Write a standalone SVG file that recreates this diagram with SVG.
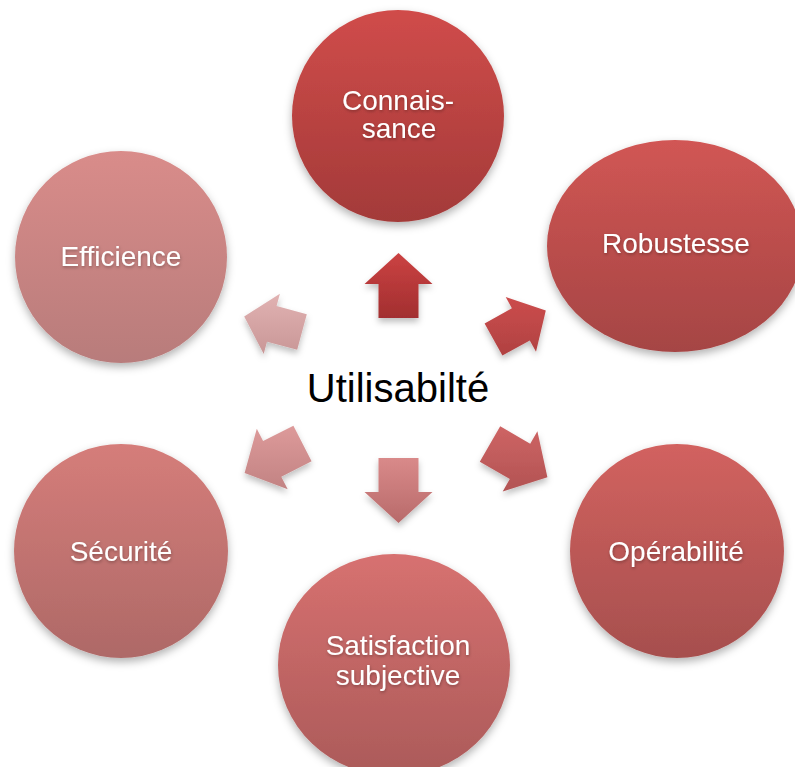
<svg xmlns="http://www.w3.org/2000/svg" width="795" height="767" viewBox="0 0 795 767">
<defs>
<filter id="sh" x="-20%" y="-20%" width="140%" height="150%">
<feDropShadow dx="0" dy="4" stdDeviation="4" flood-color="#000" flood-opacity="0.3"/>
</filter>
<filter id="ash" x="-30%" y="-30%" width="160%" height="170%">
<feDropShadow dx="0" dy="4" stdDeviation="3" flood-color="#000" flood-opacity="0.25"/>
</filter>
<filter id="tsh" x="-10%" y="-30%" width="120%" height="170%">
<feDropShadow dx="0.5" dy="1.5" stdDeviation="1.5" flood-color="#000" flood-opacity="0.3"/>
</filter>
<linearGradient id="g1" x1="0" y1="0" x2="0" y2="1"><stop offset="0" stop-color="#d04c4a"/><stop offset="1" stop-color="#a33a39"/></linearGradient>
<linearGradient id="g2" x1="0" y1="0" x2="0" y2="1"><stop offset="0" stop-color="#d15654"/><stop offset="1" stop-color="#a54544"/></linearGradient>
<linearGradient id="g3" x1="0" y1="0" x2="0" y2="1"><stop offset="0" stop-color="#d2625f"/><stop offset="1" stop-color="#a64f4e"/></linearGradient>
<linearGradient id="g4" x1="0" y1="0" x2="0" y2="1"><stop offset="0" stop-color="#d77170"/><stop offset="1" stop-color="#ab5a59"/></linearGradient>
<linearGradient id="g5" x1="0" y1="0" x2="0" y2="1"><stop offset="0" stop-color="#d57d7a"/><stop offset="1" stop-color="#ae6967"/></linearGradient>
<linearGradient id="g6" x1="0" y1="0" x2="0" y2="1"><stop offset="0" stop-color="#d98c8a"/><stop offset="1" stop-color="#b87c7b"/></linearGradient>
<linearGradient id="a1" x1="0" y1="0" x2="0" y2="1"><stop offset="0" stop-color="#cb4242"/><stop offset="1" stop-color="#a22f30"/></linearGradient>
<linearGradient id="a2" x1="0" y1="0" x2="0" y2="1"><stop offset="0" stop-color="#cc4d4d"/><stop offset="1" stop-color="#b04141"/></linearGradient>
<linearGradient id="a3" x1="0" y1="0" x2="0" y2="1"><stop offset="0" stop-color="#ce6464"/><stop offset="1" stop-color="#b25353"/></linearGradient>
<linearGradient id="a4" x1="0" y1="0" x2="0" y2="1"><stop offset="0" stop-color="#d98a8a"/><stop offset="1" stop-color="#b86a6a"/></linearGradient>
<linearGradient id="a5" x1="0" y1="0" x2="0" y2="1"><stop offset="0" stop-color="#dd9a9a"/><stop offset="1" stop-color="#c28383"/></linearGradient>
<linearGradient id="a6" x1="0" y1="0" x2="0" y2="1"><stop offset="0" stop-color="#e1b2b2"/><stop offset="1" stop-color="#c99797"/></linearGradient>
</defs>
<style>
.node{filter:url(#sh);}
.lbl{font-family:"Liberation Sans",Arial,sans-serif;font-size:28px;fill:#ffffff;text-anchor:middle;filter:url(#tsh);}
.arr{filter:url(#ash);}
.center{font-family:"Liberation Sans",Arial,sans-serif;font-size:40px;fill:#000000;text-anchor:middle;}
</style>
<rect width="795" height="767" fill="#ffffff"/>
<g id="connectors">
<polygon class="arr" fill="url(#a1)" points="378.5,318 378.5,284 364.5,284 398.5,253 432.5,284 418.5,284 418.5,318"/>
<polygon class="arr" fill="url(#a2)" points="484.6,323.4 511.9,308.2 505.7,297.0 545.8,310.5 536.0,351.7 529.8,340.4 502.4,355.6"/>
<polygon class="arr" fill="url(#a3)" points="500.2,426.3 530.2,443.7 537.4,431.3 547.4,477.2 502.7,491.4 509.8,479.0 479.8,461.7"/>
<polygon class="arr" fill="url(#a4)" points="418.5,458 418.5,492 432.5,492 398.5,523 364.5,492 378.5,492 378.5,458"/>
<polygon class="arr" fill="url(#a5)" points="311.6,461.3 281.3,476.8 287.7,489.2 244.6,473.0 256.8,428.7 263.1,441.1 293.4,425.7"/>
<polygon class="arr" fill="url(#a6)" points="297.2,349.8 267.0,341.7 263.7,354.1 244.2,316.5 279.9,293.7 276.6,306.1 306.8,314.2"/>
</g>
<g id="center">
<text class="center" x="398" y="402">Utilisabilté</text>
</g>
<g id="n-connaissance">
<circle class="node" cx="398" cy="116" r="106" fill="url(#g1)"/>
<text class="lbl" x="398" y="110">Connais-</text>
<text class="lbl" x="399" y="138">sance</text>
</g>
<g id="n-robustesse">
<ellipse class="node" cx="675" cy="246" rx="128" ry="106" fill="url(#g2)"/>
<text class="lbl" x="676" y="253">Robustesse</text>
</g>
<g id="n-operabilite">
<circle class="node" cx="677" cy="551" r="107" fill="url(#g3)"/>
<text class="lbl" x="676" y="561">Opérabilité</text>
</g>
<g id="n-satisfaction">
<ellipse class="node" cx="394" cy="665" rx="116" ry="111" fill="url(#g4)"/>
<text class="lbl" x="398" y="655">Satisfaction</text>
<text class="lbl" x="398" y="685">subjective</text>
</g>
<g id="n-securite">
<circle class="node" cx="121" cy="551" r="107" fill="url(#g5)"/>
<text class="lbl" x="121" y="561">Sécurité</text>
</g>
<g id="n-efficience">
<circle class="node" cx="121" cy="257" r="106" fill="url(#g6)"/>
<text class="lbl" x="121" y="266">Efficience</text>
</g>
</svg>
